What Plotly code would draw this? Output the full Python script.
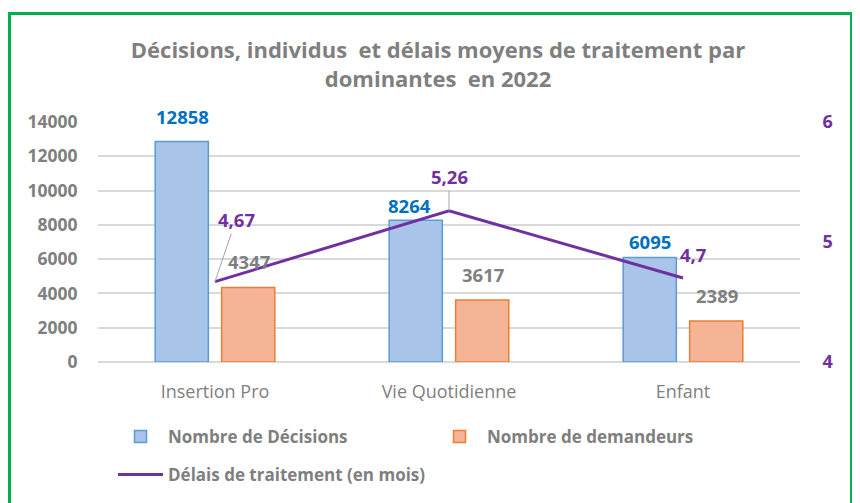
import plotly.graph_objects as go

categories = ["Insertion Pro", "Vie Quotidienne", "Enfant"]
decisions = [12858, 8264, 6095]
demandeurs = [4347, 3617, 2389]
delais = [4.67, 5.26, 4.7]
delais_labels = ["4,67", "5,26", "4,7"]
left_ticks = [0, 2000, 4000, 6000, 8000, 10000, 12000, 14000]
right_ticks = [4, 5, 6]

FONT = "Open Sans"
GRAY = "#7F7F7F"
BLUE_TXT = "#0070C0"
PURPLE = "#7030A0"

W, H = 860, 503
OFF = 8  # page body offset
L, R, T, B = 90, 68, 114, 149
PW, PH = W - L - R, H - T - B

def px_x(px):
    return (px - OFF - L) / PW

def px_y(py):
    return (H - B - (py - OFF)) / PH

fig = go.Figure()
fig.add_trace(go.Bar(
    x=categories, y=decisions, name="Nombre de Décisions",
    marker=dict(color="#A8C4E8", line=dict(color="#5B9BD5", width=1.5)),
    legend="legend",
))
fig.add_trace(go.Bar(
    x=categories, y=demandeurs, name="Nombre de demandeurs",
    marker=dict(color="#F5B496", line=dict(color="#ED7D31", width=1.5)),
    legend="legend",
))
fig.add_trace(go.Scatter(
    x=categories, y=delais, name="Délais de traitement (en mois)",
    mode="lines", line=dict(color=PURPLE, width=3), yaxis="y2",
    legend="legend2",
))

annotations = []
dec_shift = [11, 0, 2]
dec_xs = [-33, -40, -33]
for i, c in enumerate(categories):
    annotations.append(dict(x=c, y=decisions[i], xref="x", yref="y",
                            text=f"<b>{decisions[i]}</b>", showarrow=False,
                            xshift=dec_xs[i], yshift=dec_shift[i], yanchor="bottom",
                            font=dict(family=FONT, size=18.5, color=BLUE_TXT)))
    annotations.append(dict(x=c, y=demandeurs[i], xref="x", yref="y",
                            text=f"<b>{demandeurs[i]}</b>", showarrow=False,
                            xshift=34, yshift=11, yanchor="bottom",
                            font=dict(family=FONT, size=18.5, color=GRAY)))
delay_off = [(21, -62), (0, -34), (10, -24)]
delay_arrow = [True, True, False]
for i, c in enumerate(categories):
    ax, ay = delay_off[i]
    annotations.append(dict(x=c, y=delais[i], xref="x", yref="y2",
                            text=f"<b>{delais_labels[i]}</b>",
                            showarrow=True, arrowhead=0, arrowwidth=1,
                            arrowcolor="#A6A6A6" if delay_arrow[i] else "rgba(0,0,0,0)",
                            ax=ax, ay=ay, standoff=0,
                            font=dict(family=FONT, size=18.5, color=PURPLE)))

shapes = [
    dict(type="rect", xref="paper", yref="paper",
         x0=px_x(9.5), x1=px_x(851.5), y0=px_y(520), y1=px_y(13.5),
         line=dict(color="#00B050", width=3), fillcolor="rgba(0,0,0,0)", layer="below"),
]

fig.update_layout(
    width=W, height=H,
    margin=dict(l=L, r=R, t=T, b=B),
    paper_bgcolor="white", plot_bgcolor="white",
    barmode="group", bargap=0.432, bargroupgap=0.2,
    title=dict(text="<b>Décisions, individus  et délais moyens de traitement par<br>dominantes  en 2022</b>",
               x=0.5, xanchor="center", y=1 - 50 / H, yanchor="middle",
               font=dict(family=FONT, size=22, color=GRAY)),
    xaxis=dict(type="category", range=[-0.5, 2.5], showgrid=False, showline=False,
               ticks="outside", ticklen=13, tickcolor="rgba(0,0,0,0)",
               tickfont=dict(family=FONT, size=18, color=GRAY)),
    yaxis=dict(range=[0, 14000], tickvals=left_ticks, showgrid=True,
               gridcolor="#D9D9D9", gridwidth=2, zeroline=True, zerolinecolor="#D9D9D9",
               zerolinewidth=2, showline=False,
               ticks="outside", ticklen=16, tickcolor="rgba(0,0,0,0)",
               tickfont=dict(family=FONT, size=17.5, color=GRAY, weight="bold"), tickformat="d"),
    yaxis2=dict(range=[4, 6], tickvals=right_ticks, overlaying="y", side="right",
                showgrid=False, zeroline=False, showline=False,
                ticks="outside", ticklen=18, tickcolor="rgba(0,0,0,0)",
                tickfont=dict(family=FONT, size=18, color=PURPLE, weight="bold")),
    legend=dict(orientation="h", x=px_x(113), y=px_y(419), xanchor="left", yanchor="top",
                entrywidth=259, entrywidthmode="pixels", itemwidth=45,
                font=dict(family=FONT, size=17, color=GRAY, weight="bold"),
                bgcolor="rgba(0,0,0,0)"),
    legend2=dict(orientation="h", x=px_x(113), y=px_y(457), xanchor="left", yanchor="top",
                 itemwidth=45,
                 font=dict(family=FONT, size=17, color=GRAY, weight="bold"),
                 bgcolor="rgba(0,0,0,0)"),
    annotations=annotations,
    shapes=shapes,
    showlegend=True,
)

fig.write_html("out.html")
